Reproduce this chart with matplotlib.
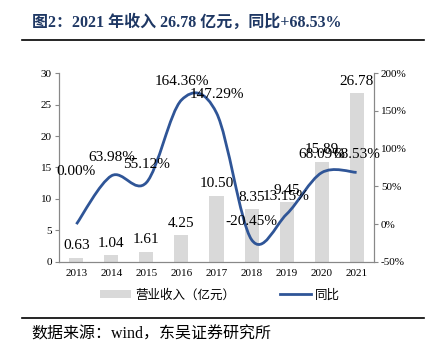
import matplotlib.pyplot as plt
import numpy as np
from matplotlib.path import Path
from matplotlib.patches import PathPatch
from matplotlib.lines import Line2D
from matplotlib.patches import Patch

years = ["2013", "2014", "2015", "2016", "2017", "2018", "2019", "2020", "2021"]
revenue = [0.63, 1.04, 1.61, 4.25, 10.50, 8.35, 9.45, 15.89, 26.78]
yoy = [0.00, 63.98, 55.12, 164.36, 147.29, -20.45, 13.15, 68.09, 68.53]
rev_labels = ["0.63", "1.04", "1.61", "4.25", "10.50", "8.35", "9.45", "15.89", "26.78"]
yoy_labels = ["0.00%", "63.98%", "55.12%", "164.36%", "147.29%", "-20.45%", "13.15%", "68.09%", "68.53%"]

FONT = ["Liberation Serif", "Noto Sans CJK SC"]
BAR_COLOR = "#d9d9d9"
LINE_COLOR = "#2f5597"
plt.rcParams["font.family"] = FONT
plt.rcParams["axes.unicode_minus"] = False


def smooth_path(xs, ys):
    # cubic bezier through the points (Catmull-Rom style, like Excel's smoothed line)
    n = len(xs)
    verts = [(xs[0], ys[0])]
    codes = [Path.MOVETO]
    for i in range(n - 1):
        x0, y0 = (xs[i - 1], ys[i - 1]) if i > 0 else (xs[i], ys[i])
        x3, y3 = (xs[i + 2], ys[i + 2]) if i + 2 < n else (xs[i + 1], ys[i + 1])
        c1 = (xs[i] + (xs[i + 1] - x0) / 6, ys[i] + (ys[i + 1] - y0) / 6)
        c2 = (xs[i + 1] - (x3 - xs[i]) / 6, ys[i + 1] - (y3 - ys[i]) / 6)
        verts += [c1, c2, (xs[i + 1], ys[i + 1])]
        codes += [Path.CURVE4] * 3
    return Path(verts, codes)


fig = plt.figure(figsize=(4.33, 3.53), dpi=100)
ax = fig.add_axes([0.136, 0.258, 0.728, 0.535])
ax2 = ax.twinx()

x = np.arange(len(years))
bars = ax.bar(x, revenue, width=0.4, color=BAR_COLOR, zorder=1)
ax.set_xlim(-0.5, len(years) - 0.5)
ax.set_ylim(0, 30)
ax.set_yticks(range(0, 31, 5))
ax.set_xticks(x)
ax.set_xticklabels(years)
ax.tick_params(axis="x", length=0, labelsize=8, pad=5)
ax.tick_params(axis="y", length=3, labelsize=8, color="#888888", pad=2)

for xi, v, lab in zip(x, revenue, rev_labels):
    ax.annotate(lab, (xi, v), xytext=(0, 4), textcoords="offset points",
                ha="center", va="bottom", fontsize=11)

ax2.set_ylim(-50, 200)
ax2.set_yticks(range(-50, 201, 50))
ax2.set_yticklabels([f"{t}%" for t in range(-50, 201, 50)])
ax2.tick_params(axis="y", length=3, labelsize=8, color="#888888", pad=2)
ax2.add_patch(PathPatch(smooth_path(list(x), yoy), facecolor="none",
                        edgecolor=LINE_COLOR, lw=2.0, zorder=3))

offsets = [38, 13, 13, 13, 13, 13, 13, 13, 13]
for xi, v, lab, off in zip(x, yoy, yoy_labels, offsets):
    ax2.annotate(lab, (xi, v), xytext=(0, off), textcoords="offset points",
                 ha="center", va="center", fontsize=11, zorder=4)

for a in (ax, ax2):
    a.spines["top"].set_visible(False)
    for s in ("left", "right", "bottom"):
        a.spines[s].set_color("#888888")
        a.spines[s].set_linewidth(0.8)

handles = [Patch(facecolor=BAR_COLOR, edgecolor="none"),
           Line2D([0], [0], color=LINE_COLOR, lw=2.0)]
fig.legend(handles, ["营业收入（亿元）", "同比"], loc="center",
           bbox_to_anchor=(0.508, 0.164), ncol=2, frameon=False,
           prop={"family": FONT, "size": 9}, handlelength=2.5, handleheight=0.55,
           columnspacing=3.6, handletextpad=0.3)

fig.text(0.074, 0.935, "图2：2021 年收入 26.78 亿元，同比+68.53%",
         fontsize=11.5, fontweight="bold", color="#1f3864", va="center")
fig.add_artist(Line2D([0.051, 0.979], [0.887, 0.887], color="black", lw=1.2))
fig.add_artist(Line2D([0.051, 0.979], [0.099, 0.099], color="black", lw=1.2))
fig.text(0.072, 0.052, "数据来源：wind，东吴证券研究所", fontsize=11.5, va="center")

fig.savefig("out.png", dpi=100)
